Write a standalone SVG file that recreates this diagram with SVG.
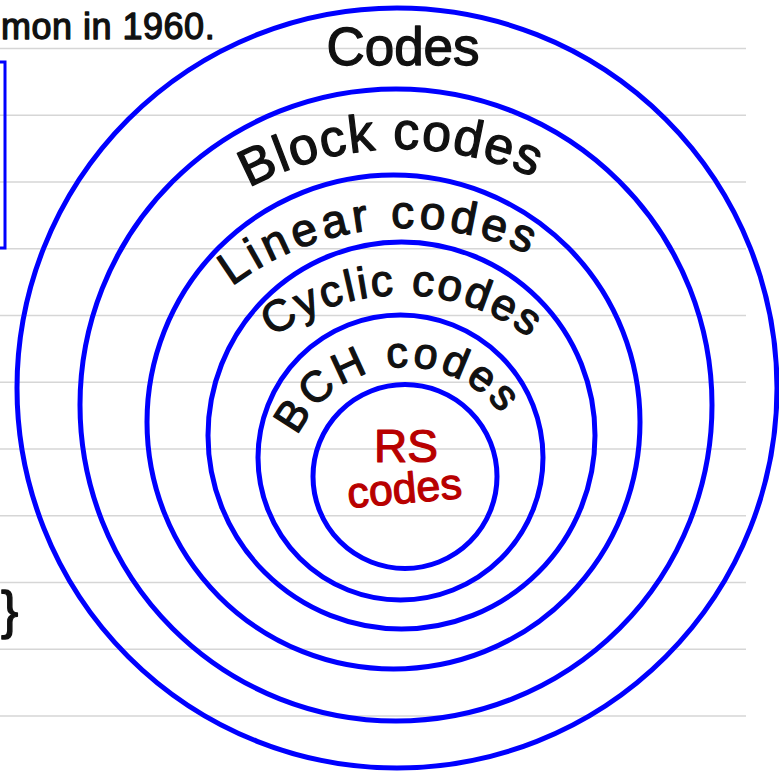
<svg xmlns="http://www.w3.org/2000/svg" width="779" height="775" viewBox="0 0 779 775">
  <style>
    .rule { stroke: #d6d6d6; stroke-width: 1.5; }
    .ring { fill: none; stroke: #0000ff; stroke-width: 5; }
    .hand { font-family: "Liberation Sans", "DejaVu Sans", sans-serif; fill: #111111; stroke: #111111; stroke-width: 1.3; stroke-linejoin: round; }
    .red { font-family: "Liberation Sans", "DejaVu Sans", sans-serif; fill: #b80000; stroke: #b80000; stroke-width: 1.2; stroke-linejoin: round; }
  </style>
  <defs>
    <!-- upper half-circles used as text baselines -->
    <path id="arcBlock" d="M 83,468 A 319 319 0 0 1 721,468"/>
    <path id="arcLinear" d="M 115,520 A 292 292 0 0 1 699,520"/>
    <path id="arcCyclic" d="M 188,508 A 213 213 0 0 1 614,508"/>
    <path id="arcBCH" d="M 286,487 A 120 120 0 0 1 526,487"/>
  </defs>
  <rect width="779" height="775" fill="#ffffff"/>

  <!-- ruled notebook lines -->
  <g id="rules">
    <line class="rule" x1="0" y1="48.5" x2="746" y2="48.5"/>
    <line class="rule" x1="0" y1="115.3" x2="746" y2="115.3"/>
    <line class="rule" x1="0" y1="182" x2="746" y2="182"/>
    <line class="rule" x1="0" y1="248.8" x2="746" y2="248.8"/>
    <line class="rule" x1="0" y1="315.5" x2="746" y2="315.5"/>
    <line class="rule" x1="0" y1="382.3" x2="746" y2="382.3"/>
    <line class="rule" x1="0" y1="449" x2="746" y2="449"/>
    <line class="rule" x1="0" y1="515.8" x2="746" y2="515.8"/>
    <line class="rule" x1="0" y1="582.5" x2="746" y2="582.5"/>
    <line class="rule" x1="0" y1="649.3" x2="746" y2="649.3"/>
    <line class="rule" x1="0" y1="716" x2="746" y2="716"/>
  </g>

  <!-- margin notes -->
  <g id="margin">
    <text class="hand" x="1" y="39" font-size="36" letter-spacing="0.5">mon in 1960.</text>
    <rect x="-20" y="62" width="25" height="186" fill="none" stroke="#0000ff" stroke-width="3"/>
    <text class="hand" x="1" y="628" font-size="52">}</text>
  </g>

  <!-- nested code families -->
  <g id="codes">
    <ellipse class="ring" cx="397" cy="388" rx="380" ry="380"/>
    <text class="hand" x="403" y="65" font-size="53" text-anchor="middle">Codes</text>
  </g>
  <g id="block-codes">
    <ellipse class="ring" cx="396" cy="405" rx="316" ry="316"/>
    <text class="hand" font-size="52" letter-spacing="1.5"><textPath href="#arcBlock" startOffset="48.9%" text-anchor="middle">Block codes</textPath></text>
  </g>
  <g id="linear-codes">
    <ellipse class="ring" cx="393.5" cy="422" rx="246.5" ry="247"/>
    <text class="hand" font-size="46" letter-spacing="4.5"><textPath href="#arcLinear" startOffset="46.8%" text-anchor="middle">Linear codes</textPath></text>
  </g>
  <g id="cyclic-codes">
    <ellipse class="ring" cx="401.5" cy="435.5" rx="193.5" ry="193.5"/>
    <text class="hand" font-size="44" letter-spacing="2.5"><textPath href="#arcCyclic" startOffset="50.2%" text-anchor="middle">Cyclic codes</textPath></text>
  </g>
  <g id="bch-codes">
    <ellipse class="ring" cx="400.5" cy="457.5" rx="142.5" ry="142.5"/>
    <text class="hand" font-size="43" letter-spacing="3.5"><textPath href="#arcBCH" startOffset="47%" text-anchor="middle">BCH codes</textPath></text>
  </g>
  <g id="rs-codes">
    <ellipse class="ring" cx="405" cy="476.5" rx="92" ry="92"/>
    <text class="red" x="406" y="462" font-size="46" text-anchor="middle">RS</text>
    <text class="red" x="405" y="503" font-size="43" text-anchor="middle" transform="rotate(-5 405 495)">codes</text>
  </g>
</svg>
